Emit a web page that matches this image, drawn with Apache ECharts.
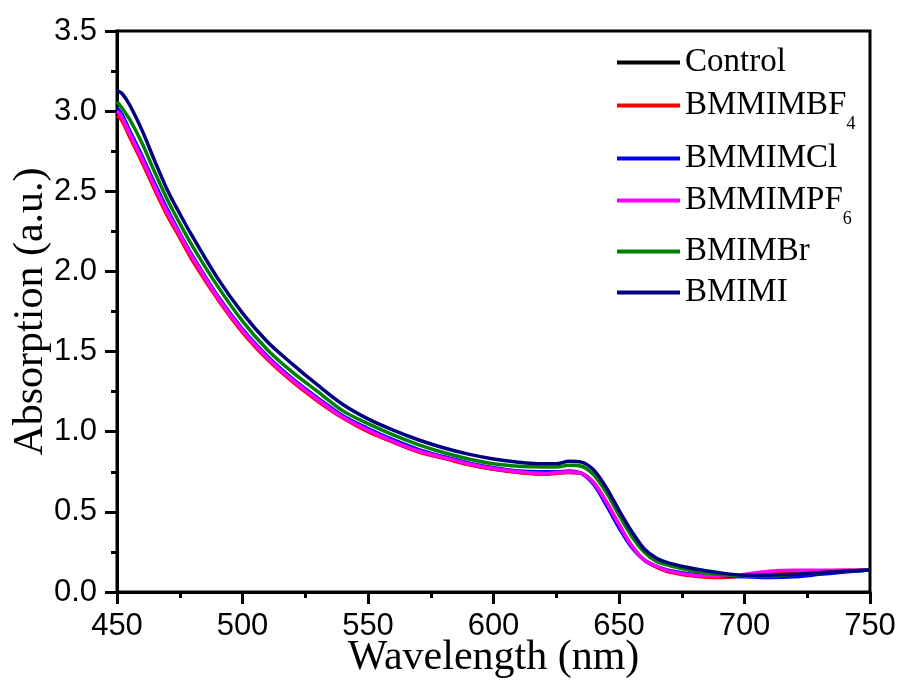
<!DOCTYPE html>
<html>
<head>
<meta charset="utf-8">
<script src="https://cdn.jsdelivr.net/npm/echarts@6/dist/echarts.min.js"></script>
<style>html,body{margin:0;padding:0;background:#fff}#c{width:903px;height:684px}</style>
</head>
<body>
<div id="c"></div>
<script>
var wavelength = [450,452,455,460,465,470,475,480,490,500,510,520,530,540,550,560,570,580,590,600,610,620,625,630,635,640,645,650,655,660,665,670,680,690,700,710,720,730,740,750];

var control = [2.98,2.95,2.85,2.69,2.52,2.36,2.22,2.08,1.835,1.625,1.455,1.315,1.195,1.088,1.005,0.937,0.877,0.837,0.797,0.767,0.747,0.737,0.742,0.747,0.74,0.68,0.56,0.42,0.29,0.2,0.157,0.128,0.103,0.095,0.1,0.105,0.11,0.12,0.13,0.137];
var bmmimbf4 = [2.97,2.94,2.84,2.68,2.51,2.35,2.21,2.07,1.83,1.62,1.45,1.31,1.19,1.085,1.0,0.935,0.875,0.835,0.795,0.765,0.745,0.735,0.74,0.745,0.74,0.68,0.56,0.42,0.29,0.2,0.155,0.125,0.1,0.09,0.1,0.115,0.125,0.13,0.135,0.137];
var bmmimcl = [3.02,2.98,2.88,2.72,2.55,2.39,2.24,2.1,1.85,1.64,1.47,1.33,1.21,1.1,1.02,0.95,0.89,0.845,0.805,0.775,0.755,0.75,0.75,0.755,0.74,0.67,0.54,0.4,0.28,0.2,0.16,0.135,0.11,0.1,0.095,0.09,0.095,0.11,0.125,0.137];
var bmmimpf6 = [3.0,2.96,2.86,2.7,2.53,2.37,2.23,2.09,1.84,1.63,1.46,1.32,1.2,1.09,1.01,0.94,0.88,0.84,0.8,0.77,0.75,0.74,0.745,0.75,0.74,0.68,0.56,0.42,0.29,0.2,0.16,0.13,0.105,0.1,0.11,0.13,0.135,0.135,0.135,0.137];
var bmimbr = [3.06,3.02,2.95,2.8,2.62,2.45,2.3,2.16,1.91,1.69,1.51,1.37,1.25,1.13,1.05,0.98,0.92,0.87,0.83,0.8,0.785,0.78,0.78,0.79,0.785,0.73,0.62,0.48,0.35,0.25,0.19,0.165,0.13,0.11,0.1,0.1,0.11,0.12,0.13,0.137];
var bmimi = [3.13,3.11,3.04,2.88,2.69,2.51,2.36,2.22,1.96,1.74,1.56,1.42,1.29,1.17,1.08,1.01,0.95,0.9,0.86,0.83,0.81,0.8,0.8,0.815,0.81,0.76,0.65,0.51,0.38,0.27,0.21,0.18,0.145,0.12,0.105,0.105,0.11,0.12,0.13,0.137];

var seriesNames = ['Control','BMMIMBF4','BMMIMCl','BMMIMPF6','BMIMBr','BMIMI'];
var seriesLabels = ['Control','BMMIMBF{s|4}','BMMIMCl','BMMIMPF{s|6}','BMIMBr','BMIMI'];
var seriesColors = ['#000000','#ff0000','#0000ff','#ff00ff','#008000','#000080'];
var seriesData = [control,bmmimbf4,bmmimcl,bmmimpf6,bmimbr,bmimi];
var xTicks = [450,500,550,600,650,700,750];
var yTicks = [0.0,0.5,1.0,1.5,2.0,2.5,3.0,3.5];

var legendTops = [46,89,142,184,235,276];

var chart = echarts.init(document.getElementById('c'), null, {renderer:'canvas'});
var series = seriesNames.map(function(n,i){
  return {
    name:n, type:'line', symbol:'none', smooth:0.3,
    data: wavelength.map(function(w,j){return [w, seriesData[i][j]];}),
    lineStyle:{color:seriesColors[i], width:3.5},
    itemStyle:{color:seriesColors[i]},
    z: 2+i
  };
});
var legends = seriesNames.map(function(n,i){
  return {
    data:[n], left:617, top:legendTops[i], orient:'vertical',
    icon:'rect', itemWidth:63, itemHeight:4, itemGap:0, padding:0,
    formatter:function(){return seriesLabels[i];},
    textStyle:{fontFamily:'Liberation Serif', fontSize:33, color:'#000',
      rich:{s:{fontFamily:'Liberation Serif', fontSize:18, color:'#000', verticalAlign:'bottom', padding:[38,0,0,0]}}},
    selectedMode:false
  };
});
chart.setOption({
  animation:false,
  backgroundColor:'#fff',
  grid:{left:117,top:31,right:33,bottom:92,show:true,borderColor:'#000',borderWidth:3,containLabel:false,outerBoundsMode:'none'},
  legend:legends,
  xAxis:{type:'value',min:xTicks[0],max:xTicks[xTicks.length-1],interval:50,
    name:'Wavelength (nm)',nameLocation:'middle',nameGap:45,nameMoveOverlap:false,
    nameTextStyle:{fontFamily:'Liberation Serif',fontSize:42,color:'#000'},
    axisLine:{show:true,lineStyle:{color:'#000',width:3}},
    axisTick:{show:true,inside:false,length:12,lineStyle:{color:'#000',width:3}},
    minorTick:{show:true,splitNumber:2,length:6,lineStyle:{color:'#000',width:3}},
    splitLine:{show:false},
    axisLabel:{margin:19,fontFamily:'Liberation Sans',fontSize:31,color:'#000'}},
  yAxis:{type:'value',min:yTicks[0],max:yTicks[yTicks.length-1],interval:0.5,
    name:'Absorption (a.u.)',nameLocation:'middle',nameGap:65,nameMoveOverlap:false,
    nameTextStyle:{fontFamily:'Liberation Serif',fontSize:42,color:'#000'},
    axisLine:{show:true,lineStyle:{color:'#000',width:3}},
    axisTick:{show:true,inside:false,length:12,lineStyle:{color:'#000',width:3}},
    minorTick:{show:true,splitNumber:2,length:6,lineStyle:{color:'#000',width:3}},
    splitLine:{show:false},
    axisLabel:{margin:20,fontFamily:'Liberation Sans',fontSize:31,color:'#000',
      formatter:function(v){return v.toFixed(1);}}},
  series:series
});
</script>
</body>
</html>
